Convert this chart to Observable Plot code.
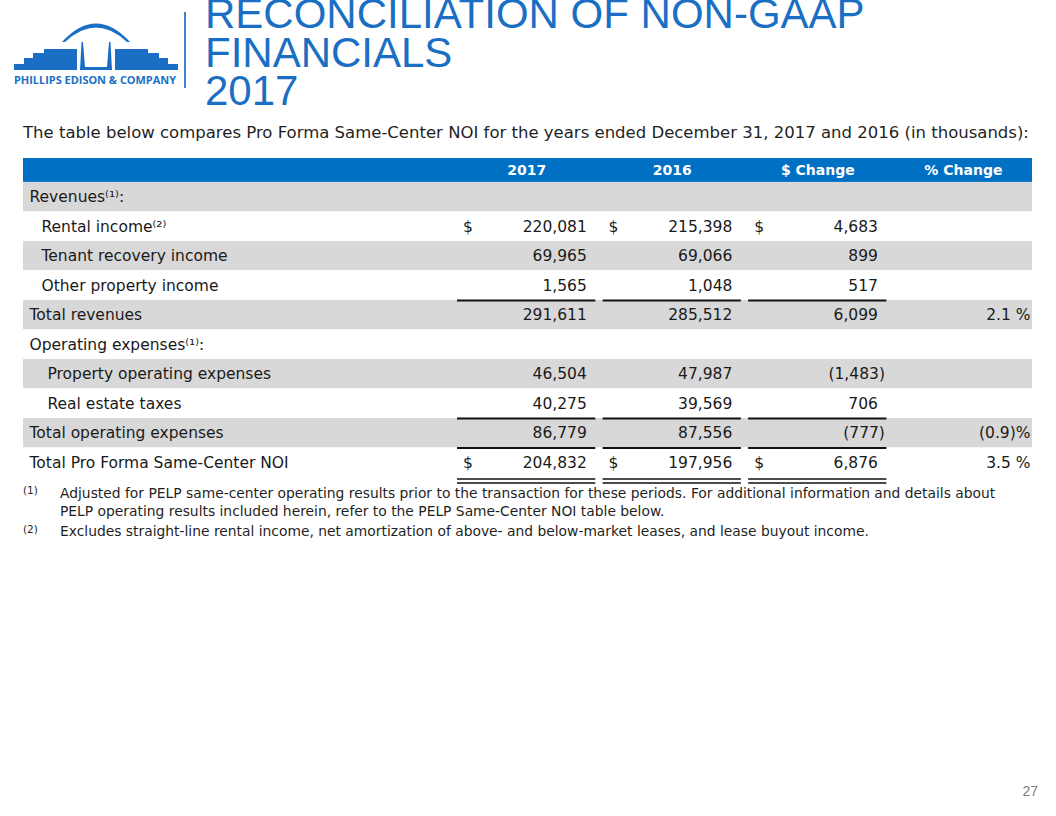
<!DOCTYPE html>
<html>
<head>
<meta charset="utf-8">
<script src="https://cdn.jsdelivr.net/npm/d3@7"></script>
<script src="https://cdn.jsdelivr.net/npm/@observablehq/plot@0.6"></script>
<style>
  html, body { margin: 0; padding: 0; background: #fff; }
  #page { position: relative; width: 1056px; height: 816px; overflow: hidden; font-family: "DejaVu Sans", sans-serif; background: #fff; }
  #logo { position: absolute; left: 0; top: 0; }
  #sep { position: absolute; left: 184px; top: 12px; width: 1.5px; height: 76px; background: #3a84d0; }
  #title { position: absolute; left: 205px; top: -5px; font-family: "Liberation Sans", Arial, sans-serif; font-size: 42px; line-height: 38.7px; color: #1a6fc4; white-space: nowrap; }
  #subtitle { position: absolute; left: 23px; top: 123px; font-size: 16.5px; line-height: 19px; color: #1f1f1f; white-space: nowrap; }
  #chart { position: absolute; left: 0; top: 150px; }
  .fn { position: absolute; left: 60px; font-size: 13.85px; line-height: 17.5px; color: #1f1f1f; white-space: nowrap; }
  .fnm { position: absolute; left: 23px; font-size: 10.5px; line-height: 12px; color: #1f1f1f; }
  #pg { position: absolute; right: 18px; top: 783px; font-family: "Liberation Sans", Arial, sans-serif; font-size: 14px; line-height: 16px; color: #7f7f7f; }
</style>
</head>
<body>
<div id="page">
  <svg id="logo" width="190" height="100" viewBox="0 0 190 100">
    <g fill="#1a6fc4">
      <path d="M14,70 L14,64 L24,64 L24,58 L33,58 L33,53 L44,53 L44,49 L77,49 L77,70 Z"/>
      <path d="M178,70 L178,64 L168,64 L168,58 L159,58 L159,53 L148,53 L148,49 L115,49 L115,70 Z"/>
      <path d="M80,70 L81.5,42 L83,42 L85,67 L107,67 L109,42 L110.5,42 L112,70 Z"/>
      <path d="M62,42 Q96,5 130,42 L127,42 Q96,13 65,42 Z"/>
      <text x="14" y="84" font-family="'Open Sans', 'DejaVu Sans', sans-serif" font-weight="bold" font-size="10.5" textLength="162" lengthAdjust="spacingAndGlyphs">PHILLIPS EDISON &amp; COMPANY</text>
    </g>
  </svg>
  <div id="sep"></div>
  <div id="title">RECONCILIATION OF NON-GAAP<br>FINANCIALS<br>2017</div>
  <div id="subtitle">The table below compares Pro Forma Same-Center NOI for the years ended December 31, 2017 and 2016 (in thousands):</div>
  <div id="chart"></div>
  <div class="fnm" style="top:484px">(1)</div>
  <div class="fn" style="top:485px">Adjusted for PELP same-center operating results prior to the transaction for these periods. For additional information and details about<br>PELP operating results included herein, refer to the PELP Same-Center NOI table below.</div>
  <div class="fnm" style="top:523px">(2)</div>
  <div class="fn" style="top:523px">Excludes straight-line rental income, net amortization of above- and below-market leases, and lease buyout income.</div>
  <div id="pg">27</div>
</div>
<script>
// ---------- data ----------
const rowLabels = [
  "Revenues\u207D\u00B9\u207E:",
  "Rental income\u207D\u00B2\u207E",
  "Tenant recovery income",
  "Other property income",
  "Total revenues",
  "Operating expenses\u207D\u00B9\u207E:",
  "Property operating expenses",
  "Real estate taxes",
  "Total operating expenses",
  "Total Pro Forma Same-Center NOI"
];
const indentLevel = [0, 1, 1, 1, 0, 0, 2, 2, 0, 0];
const columns = ["2017", "2016", "$ Change", "% Change"];
const val2017   = [null, 220081, 69965, 1565, 291611, null, 46504, 40275, 86779, 204832];
const val2016   = [null, 215398, 69066, 1048, 285512, null, 47987, 39569, 87556, 197956];
const valChange = [null,   4683,   899,  517,   6099, null, -1483,   706,  -777,   6876];
const pctChange = [null, null, null, null, 2.1, null, null, null, -0.9, 3.5];
const dollarSignRows = [1, 9];
const singleRuleRows = [4, 8, 9];
const doubleRuleRows = [10];

// ---------- layout / style ----------
const BLUE = "#0070c4";
const GRAY = "#d8d8d8";
const INK = "#1a1a1a";
const HEADER_H = 0.81;   // header height in row units
const COLW = 0.95;       // column width in column units
const FONT = 15.5;
const indentDx = [6, 18, 24];

const fmtNum = v => v < 0 ? `(${d3.format(",")(-v)})` : d3.format(",")(v);
const fmtPct = v => v < 0 ? `(${(-v).toFixed(1)})%` : `${v.toFixed(1)} %`;

const rows = rowLabels.map((label, i) => ({i, label, indent: indentLevel[i]}));
const cells = [];
rows.forEach(r => {
  [val2017, val2016, valChange].forEach((arr, c) => {
    const v = arr[r.i];
    if (v != null) cells.push({i: r.i, c, v, text: fmtNum(v), kind: v < 0 ? "neg" : "pos"});
  });
  const p = pctChange[r.i];
  if (p != null) cells.push({i: r.i, c: 3, v: p, text: fmtPct(p), kind: "pct"});
});
const dollarCells = [];
dollarSignRows.forEach(i => [0, 1, 2].forEach(c => dollarCells.push({i, c})));
const singleRules = [];
singleRuleRows.forEach(i => [0, 1, 2].forEach(c => singleRules.push({i, c})));
const doubleRules = [];
doubleRuleRows.forEach(i => [0, 1, 2].forEach(c => doubleRules.push({i, c})));

const labelMarks = indentDx.map((dx, lvl) =>
  Plot.text(rows.filter(r => r.indent === lvl), {
    y: d => d.i + 0.5, text: "label", frameAnchor: "left", textAnchor: "start",
    dx, fontSize: FONT, fill: INK
  })
);

const chart = Plot.plot({
  width: 1056,
  height: 336,
  marginTop: 8, marginBottom: 9, marginLeft: 23, marginRight: 24,
  x: {domain: [0, columns.length - 1 + COLW], range: [457, 1032], axis: null},
  y: {domain: [-HEADER_H, rowLabels.length], range: [8, 327], axis: null},
  style: {fontFamily: "DejaVu Sans, sans-serif", fontSize: FONT + "px", color: INK, background: "white"},
  marks: [
    Plot.rect(rows, {y1: d => d.i, y2: d => d.i + 1, fill: d => d.i % 2 === 0 ? GRAY : "white"}),
    Plot.rect([columns], {y1: -HEADER_H, y2: 0, fill: BLUE}),
    Plot.text(columns, {x: (d, i) => i + COLW / 2, y: -HEADER_H / 2, text: d => d, fill: "white", fontWeight: "bold", fontSize: 14}),
    ...labelMarks,
    Plot.text(cells.filter(d => d.kind === "pos"), {x: d => d.c + COLW, y: d => d.i + 0.5, text: "text", textAnchor: "end", dx: -9, fontSize: FONT, fill: INK}),
    Plot.text(cells.filter(d => d.kind === "neg"), {x: d => d.c + COLW, y: d => d.i + 0.5, text: "text", textAnchor: "end", dx: -2, fontSize: FONT, fill: INK}),
    Plot.text(cells.filter(d => d.kind === "pct"), {x: d => d.c + COLW, y: d => d.i + 0.5, text: "text", textAnchor: "end", dx: -2, fontSize: FONT, fill: INK}),
    Plot.text(dollarCells, {x: "c", y: d => d.i + 0.5, text: () => "$", textAnchor: "start", dx: 5.5, fontSize: FONT, fill: INK}),
    Plot.ruleY(singleRules, {y: "i", x1: "c", x2: d => d.c + COLW, stroke: "#111", strokeWidth: 2}),
    Plot.ruleY(doubleRules, {y: "i", x1: "c", x2: d => d.c + COLW, stroke: "#111", strokeWidth: 1.4, dy: 1.5}),
    Plot.ruleY(doubleRules, {y: "i", x1: "c", x2: d => d.c + COLW, stroke: "#111", strokeWidth: 1.4, dy: 5.5})
  ]
});
document.getElementById("chart").appendChild(chart);
</script>
</body>
</html>
